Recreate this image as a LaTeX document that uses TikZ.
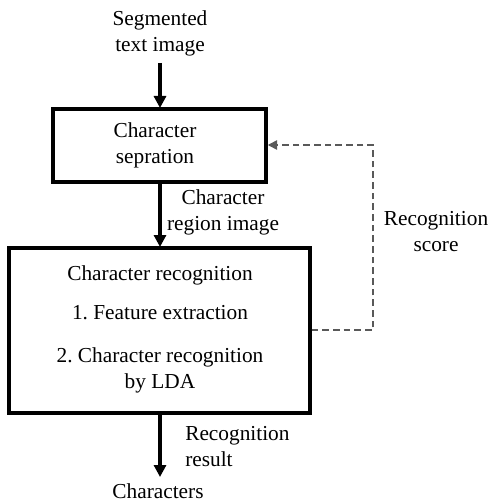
\documentclass[tikz,border=0pt]{standalone}
\usepackage{fontspec}
\setmainfont{Liberation Serif}
\usetikzlibrary{arrows.meta}
\frenchspacing
\begin{document}
\begin{tikzpicture}[x=0.75pt,y=-0.75pt,
  every node/.style={font=\fontsize{16}{19.5}\selectfont, inner sep=0pt},
  procbox/.style={draw, line width=2.6pt, inner sep=0pt},
  flow/.style={line width=2.3pt, -{Triangle[width=9pt,length=9pt]}},
  fb/.style={draw=black!65, line width=1.1pt, dash pattern=on 5pt off 3pt, -{Triangle[width=7pt,length=7pt]}},
  lbl/.style={align=center}]
\useasboundingbox (0,0) rectangle (488,502);
\node[procbox, minimum width=213*0.75pt, minimum height=73*0.75pt] (sep) at (159.5,145.5) {};
\node[lbl] (septxt) at (155,145) {Character\\sepration};
\node[procbox, minimum width=301*0.75pt, minimum height=165*0.75pt] (rec) at (159.5,330.5) {};
\node[lbl] (r1) at (160,275) {Character recognition};
\node[lbl] (r2) at (160,313) {1. Feature extraction};
\node[lbl] (r3) at (160,370) {2. Character recognition\\by LDA};
\node[lbl] (seg) at (160,33) {Segmented\\text image};
\node[lbl] (cri) at (223,212) {Character\\region image};
\node[lbl] (rs) at (436,232) {Recognition\\score};
\node[align=left, anchor=west] (rr) at (185,447) {Recognition\\result};
\node[lbl] (chars) at (158,491) {Characters};
\coordinate (segend) at (160,63);
\coordinate (out) at (160,477);
\coordinate (fb1) at (373,330);
\coordinate (fb2) at (373,145);
\draw[flow] (segend) -- (160,108);
\draw[flow] (160,183) -- (160,247);
\draw[flow] (160,414) -- (out);
\draw[fb] (rec.east |- fb1) -- (fb1) -- (fb2) -- (sep.east |- fb2);
\end{tikzpicture}
\end{document}
